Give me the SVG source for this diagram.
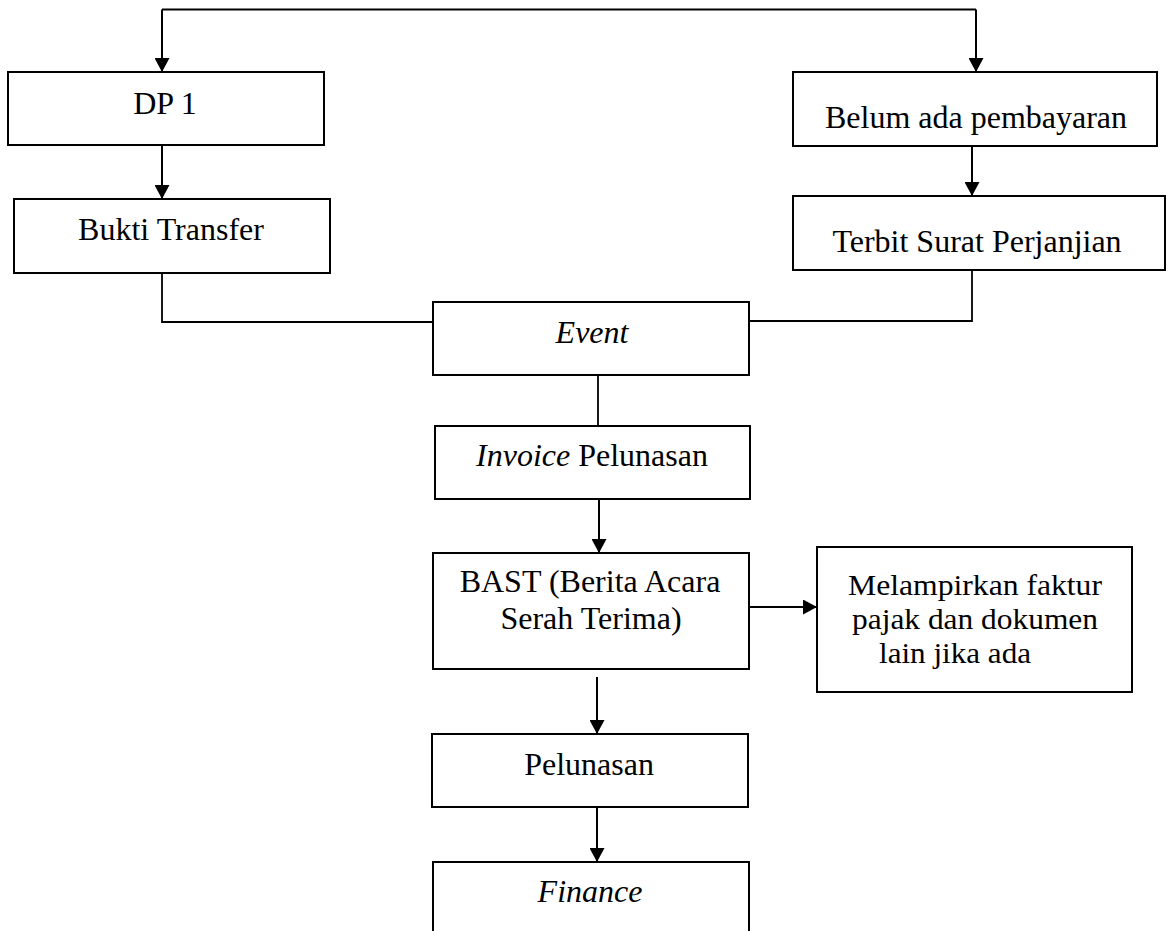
<svg xmlns="http://www.w3.org/2000/svg" width="1168" height="931" viewBox="0 0 1168 931">
<style>
.box{fill:#fff;stroke:#000;stroke-width:2}
.t{font-family:"Liberation Serif","Times New Roman",serif;font-size:32px;fill:#000;text-anchor:middle}
.s{font-size:29px}
.i{font-style:italic}
.ln{fill:none;stroke:#000;stroke-width:1.8}
.ar{fill:none;stroke:#000;stroke-width:2;marker-end:url(#ah)}
</style>
<defs>
<marker id="ah" markerUnits="userSpaceOnUse" markerWidth="15" markerHeight="15" refX="14" refY="7.5" orient="auto" viewBox="0 0 15 15">
<path d="M0,0 L14,7.5 L0,15 z" fill="#000"/>
</marker>
</defs>
<rect width="1168" height="931" fill="#fff"/>
<g id="connectors">
<path class="ln" d="M162,9.5 H976"/>
<path class="ar" d="M162,9.5 V72"/>
<path class="ar" d="M976,9.5 V72"/>
<path class="ar" d="M162,145 V199"/>
<path class="ar" d="M972,146 V196"/>
<path class="ln" d="M162,273 V322 H434"/>
<path class="ln" d="M972,270 V321 H749"/>
<path class="ln" d="M598,375 V426"/>
<path class="ar" d="M599,493 V553"/>
<path class="ar" d="M749,607 H817"/>
<path class="ar" d="M597,677 V734"/>
<path class="ar" d="M597,807 V862"/>
</g>
<g id="dp1">
<rect class="box" x="8" y="72" width="316" height="73"/>
<text class="t" x="165" y="114">DP 1</text>
</g>
<g id="bukti">
<rect class="box" x="14" y="199" width="316" height="74"/>
<text class="t" x="171" y="240">Bukti Transfer</text>
</g>
<g id="belum">
<rect class="box" x="793" y="72" width="364" height="74"/>
<text class="t" x="976" y="128">Belum ada pembayaran</text>
</g>
<g id="terbit">
<rect class="box" x="793" y="196" width="372" height="74"/>
<text class="t" x="977" y="252">Terbit Surat Perjanjian</text>
</g>
<g id="event">
<rect class="box" x="433" y="302" width="316" height="73"/>
<text class="t i" x="592" y="343">Event</text>
</g>
<g id="invoice">
<rect class="box" x="435" y="426" width="315" height="73"/>
<text class="t" x="592" y="466"><tspan class="i">Invoice</tspan> Pelunasan</text>
</g>
<g id="bast">
<rect class="box" x="433" y="553" width="316" height="116"/>
<text class="t" x="590" y="592">BAST (Berita Acara</text>
<text class="t" x="591" y="629">Serah Terima)</text>
</g>
<g id="melampirkan">
<rect class="box" x="817" y="547" width="315" height="145"/>
<text class="t s" x="975" y="595" textLength="254" lengthAdjust="spacingAndGlyphs">Melampirkan faktur</text>
<text class="t s" x="975" y="629" textLength="246" lengthAdjust="spacingAndGlyphs">pajak dan dokumen</text>
<text class="t s" x="879" y="663" style="text-anchor:start" textLength="152" lengthAdjust="spacingAndGlyphs">lain jika ada</text>
</g>
<g id="pelunasan">
<rect class="box" x="432" y="734" width="316" height="73"/>
<text class="t" x="589" y="775">Pelunasan</text>
</g>
<g id="finance">
<rect class="box" x="433" y="862" width="316" height="90"/>
<text class="t i" x="590" y="902">Finance</text>
</g>
</svg>
